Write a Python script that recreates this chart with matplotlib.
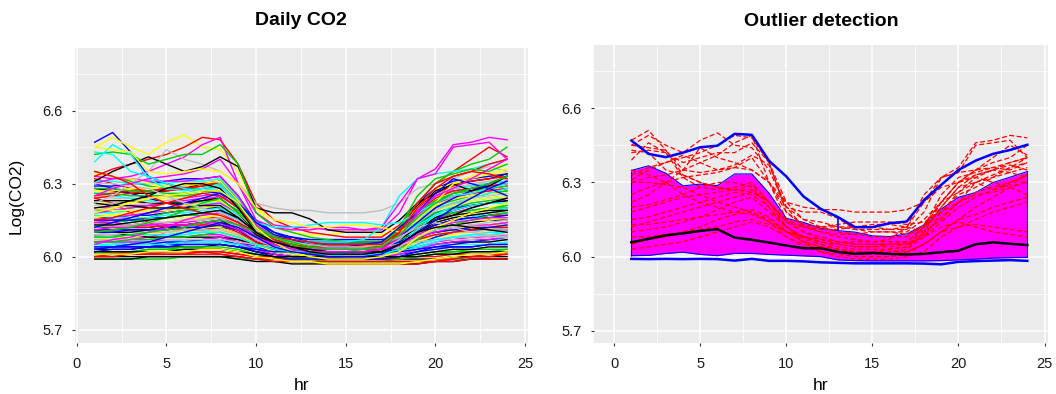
import numpy as np
import matplotlib
matplotlib.use("Agg")
import matplotlib.pyplot as plt
from matplotlib.ticker import MultipleLocator

plt.rcParams['font.family'] = ['Liberation Sans', 'DejaVu Sans']

hours = list(range(1, 25))

# days flagged as outliers (red dashed on the right panel)
outliers = [
    [6.47, 6.51, 6.43, 6.33, 6.30, 6.28, 6.27, 6.26, 6.22, 6.15, 6.10, 6.08, 6.06, 6.05, 6.05, 6.05, 6.05, 6.08, 6.14, 6.20, 6.24, 6.27, 6.30, 6.33],
    [6.45, 6.49, 6.45, 6.42, 6.47, 6.50, 6.45, 6.44, 6.35, 6.20, 6.12, 6.10, 6.09, 6.09, 6.10, 6.10, 6.09, 6.12, 6.20, 6.28, 6.30, 6.33, 6.36, 6.38],
    [6.33, 6.36, 6.38, 6.40, 6.42, 6.45, 6.49, 6.48, 6.38, 6.22, 6.15, 6.12, 6.10, 6.09, 6.08, 6.08, 6.08, 6.13, 6.22, 6.30, 6.35, 6.40, 6.45, 6.41],
    [6.30, 6.32, 6.33, 6.35, 6.38, 6.41, 6.46, 6.49, 6.30, 6.18, 6.13, 6.12, 6.12, 6.11, 6.11, 6.11, 6.11, 6.18, 6.32, 6.36, 6.46, 6.47, 6.49, 6.48],
    [6.22, 6.25, 6.30, 6.35, 6.44, 6.40, 6.38, 6.35, 6.30, 6.22, 6.20, 6.19, 6.19, 6.18, 6.18, 6.18, 6.19, 6.22, 6.28, 6.30, 6.32, 6.35, 6.37, 6.35],
    [6.31, 6.35, 6.38, 6.41, 6.38, 6.35, 6.37, 6.41, 6.37, 6.20, 6.18, 6.18, 6.155, 6.11, 6.10, 6.10, 6.10, 6.15, 6.22, 6.26, 6.30, 6.27, 6.29, 6.33],
    [6.42, 6.43, 6.42, 6.38, 6.40, 6.42, 6.42, 6.46, 6.38, 6.18, 6.12, 6.10, 6.08, 6.07, 6.06, 6.06, 6.06, 6.12, 6.22, 6.30, 6.35, 6.38, 6.40, 6.45],
    [6.39, 6.46, 6.42, 6.32, 6.28, 6.27, 6.28, 6.30, 6.22, 6.12, 6.08, 6.07, 6.06, 6.06, 6.06, 6.07, 6.12, 6.25, 6.32, 6.34, 6.35, 6.36, 6.38, 6.40],
    [6.25, 6.28, 6.30, 6.32, 6.33, 6.34, 6.36, 6.40, 6.30, 6.15, 6.12, 6.11, 6.11, 6.12, 6.12, 6.11, 6.12, 6.22, 6.32, 6.34, 6.45, 6.46, 6.47, 6.40],
    [6.15, 6.16, 6.18, 6.20, 6.22, 6.24, 6.26, 6.25, 6.20, 6.12, 6.07, 6.05, 6.03, 6.02, 6.02, 6.02, 6.03, 6.10, 6.22, 6.30, 6.33, 6.35, 6.38, 6.40],
    [6.10, 6.11, 6.12, 6.14, 6.16, 6.19, 6.22, 6.24, 6.18, 6.12, 6.08, 6.05, 6.03, 6.02, 6.02, 6.03, 6.04, 6.12, 6.25, 6.32, 6.34, 6.36, 6.35, 6.38],
    [6.43, 6.42, 6.35, 6.33, 6.30, 6.28, 6.27, 6.29, 6.22, 6.14, 6.12, 6.12, 6.13, 6.14, 6.14, 6.14, 6.13, 6.14, 6.18, 6.22, 6.25, 6.26, 6.28, 6.30],
    [6.45, 6.44, 6.43, 6.35, 6.34, 6.35, 6.36, 6.35, 6.30, 6.20, 6.15, 6.14, 6.12, 6.12, 6.13, 6.13, 6.12, 6.10, 6.15, 6.22, 6.30, 6.32, 6.34, 6.36],
    [6.12, 6.14, 6.16, 6.18, 6.20, 6.22, 6.24, 6.26, 6.22, 6.14, 6.10, 6.07, 6.05, 6.04, 6.04, 6.05, 6.06, 6.12, 6.18, 6.26, 6.32, 6.30, 6.28, 6.25],
    [6.20, 6.21, 6.23, 6.25, 6.28, 6.30, 6.30, 6.28, 6.20, 6.10, 6.06, 6.04, 6.03, 6.02, 6.02, 6.02, 6.02, 6.05, 6.10, 6.15, 6.17, 6.20, 6.22, 6.24],
    [6.05, 6.07, 6.08, 6.10, 6.12, 6.15, 6.17, 6.18, 6.14, 6.08, 6.05, 6.03, 6.02, 6.02, 6.02, 6.02, 6.03, 6.08, 6.18, 6.25, 6.28, 6.32, 6.36, 6.40],
    [6.30, 6.30, 6.29, 6.28, 6.25, 6.22, 6.20, 6.18, 6.15, 6.10, 6.08, 6.06, 6.05, 6.04, 6.04, 6.04, 6.05, 6.08, 6.12, 6.14, 6.12, 6.10, 6.09, 6.08],
    [6.35, 6.33, 6.30, 6.25, 6.22, 6.20, 6.18, 6.17, 6.14, 6.10, 6.08, 6.07, 6.06, 6.05, 6.05, 6.05, 6.05, 6.10, 6.20, 6.28, 6.33, 6.35, 6.34, 6.32],
    [6.08, 6.08, 6.09, 6.10, 6.11, 6.12, 6.14, 6.15, 6.13, 6.10, 6.08, 6.06, 6.04, 6.03, 6.03, 6.03, 6.04, 6.09, 6.16, 6.22, 6.26, 6.28, 6.30, 6.33],
    [6.18, 6.20, 6.22, 6.24, 6.25, 6.26, 6.27, 6.27, 6.22, 6.12, 6.06, 6.02, 6.00, 5.99, 5.99, 5.99, 6.00, 6.02, 6.08, 6.12, 6.15, 6.18, 6.20, 6.22],
    [6.03, 6.04, 6.05, 6.06, 6.08, 6.10, 6.12, 6.14, 6.12, 6.08, 6.04, 6.02, 6.01, 6.00, 6.00, 6.00, 6.01, 6.05, 6.10, 6.15, 6.20, 6.24, 6.28, 6.31],
    [6.13, 6.13, 6.14, 6.15, 6.16, 6.17, 6.18, 6.19, 6.16, 6.10, 6.06, 6.04, 6.02, 6.01, 6.01, 6.01, 6.02, 6.05, 6.10, 6.12, 6.13, 6.12, 6.11, 6.10],
]

# ordinary days
normal_days = [
    [6.00, 6.00, 6.00, 6.00, 6.00, 6.00, 6.00, 6.00, 6.00, 5.99, 5.99, 5.99, 5.99, 5.99, 5.99, 5.99, 5.99, 5.99, 5.99, 5.99, 6.00, 6.00, 6.00, 6.00],
    [6.01, 6.01, 6.01, 6.01, 6.01, 6.01, 6.02, 6.02, 6.01, 6.00, 5.99, 5.99, 5.99, 5.98, 5.98, 5.98, 5.98, 5.98, 5.98, 5.99, 5.99, 6.00, 6.00, 6.01],
    [6.02, 6.02, 6.02, 6.03, 6.03, 6.03, 6.03, 6.03, 6.02, 6.01, 6.00, 6.00, 5.99, 5.99, 5.99, 5.99, 5.99, 6.00, 6.01, 6.02, 6.02, 6.03, 6.03, 6.03],
    [6.04, 6.04, 6.04, 6.04, 6.05, 6.05, 6.05, 6.05, 6.04, 6.02, 6.01, 6.00, 6.00, 6.00, 6.00, 6.00, 6.00, 6.01, 6.02, 6.03, 6.04, 6.04, 6.05, 6.05],
    [6.05, 6.05, 6.06, 6.06, 6.06, 6.07, 6.07, 6.07, 6.05, 6.03, 6.02, 6.01, 6.00, 6.00, 6.00, 6.00, 6.00, 6.01, 6.03, 6.05, 6.06, 6.06, 6.07, 6.07],
    [6.06, 6.07, 6.07, 6.08, 6.08, 6.08, 6.09, 6.09, 6.07, 6.04, 6.02, 6.01, 6.01, 6.00, 6.00, 6.00, 6.01, 6.02, 6.04, 6.06, 6.07, 6.08, 6.08, 6.09],
    [6.08, 6.08, 6.09, 6.09, 6.10, 6.10, 6.10, 6.11, 6.08, 6.05, 6.03, 6.02, 6.01, 6.01, 6.01, 6.01, 6.01, 6.03, 6.06, 6.08, 6.09, 6.10, 6.10, 6.11],
    [6.09, 6.10, 6.10, 6.11, 6.11, 6.12, 6.12, 6.13, 6.10, 6.06, 6.03, 6.02, 6.02, 6.01, 6.01, 6.01, 6.02, 6.04, 6.08, 6.10, 6.11, 6.12, 6.13, 6.13],
    [6.11, 6.11, 6.12, 6.12, 6.13, 6.13, 6.14, 6.14, 6.11, 6.07, 6.04, 6.03, 6.02, 6.02, 6.02, 6.02, 6.02, 6.05, 6.09, 6.12, 6.13, 6.14, 6.15, 6.15],
    [6.12, 6.13, 6.13, 6.14, 6.14, 6.15, 6.16, 6.16, 6.12, 6.07, 6.04, 6.03, 6.02, 6.02, 6.02, 6.02, 6.02, 6.05, 6.10, 6.13, 6.15, 6.16, 6.17, 6.17],
    [6.14, 6.14, 6.15, 6.15, 6.16, 6.17, 6.17, 6.18, 6.14, 6.08, 6.05, 6.03, 6.02, 6.02, 6.02, 6.02, 6.03, 6.07, 6.12, 6.16, 6.18, 6.19, 6.20, 6.20],
    [6.16, 6.16, 6.17, 6.17, 6.18, 6.19, 6.20, 6.20, 6.15, 6.09, 6.05, 6.04, 6.03, 6.03, 6.03, 6.03, 6.03, 6.07, 6.13, 6.18, 6.20, 6.21, 6.22, 6.23],
    [6.18, 6.18, 6.19, 6.19, 6.20, 6.21, 6.22, 6.22, 6.17, 6.10, 6.06, 6.04, 6.03, 6.03, 6.03, 6.03, 6.04, 6.08, 6.15, 6.20, 6.22, 6.23, 6.24, 6.25],
    [6.20, 6.20, 6.21, 6.21, 6.22, 6.23, 6.24, 6.24, 6.18, 6.10, 6.06, 6.05, 6.04, 6.04, 6.04, 6.04, 6.04, 6.09, 6.16, 6.22, 6.24, 6.26, 6.27, 6.28],
    [6.22, 6.22, 6.22, 6.23, 6.24, 6.25, 6.26, 6.27, 6.20, 6.11, 6.07, 6.05, 6.04, 6.04, 6.04, 6.04, 6.05, 6.10, 6.18, 6.24, 6.27, 6.28, 6.29, 6.30],
    [6.25, 6.24, 6.24, 6.24, 6.25, 6.26, 6.28, 6.29, 6.22, 6.12, 6.07, 6.06, 6.05, 6.05, 6.05, 6.05, 6.05, 6.11, 6.20, 6.26, 6.28, 6.30, 6.31, 6.32],
    [6.28, 6.27, 6.26, 6.26, 6.27, 6.28, 6.30, 6.31, 6.24, 6.13, 6.08, 6.06, 6.05, 6.05, 6.05, 6.05, 6.06, 6.12, 6.21, 6.27, 6.30, 6.31, 6.32, 6.34],
    [6.32, 6.30, 6.28, 6.27, 6.27, 6.28, 6.29, 6.30, 6.23, 6.12, 6.08, 6.06, 6.05, 6.05, 6.05, 6.05, 6.05, 6.10, 6.18, 6.22, 6.25, 6.26, 6.27, 6.28],
    [6.35, 6.33, 6.31, 6.29, 6.28, 6.28, 6.28, 6.29, 6.22, 6.11, 6.07, 6.05, 6.04, 6.04, 6.04, 6.04, 6.04, 6.08, 6.14, 6.18, 6.20, 6.22, 6.23, 6.24],
    [6.30, 6.28, 6.26, 6.24, 6.22, 6.21, 6.20, 6.20, 6.15, 6.08, 6.05, 6.03, 6.02, 6.02, 6.02, 6.02, 6.02, 6.05, 6.10, 6.13, 6.15, 6.16, 6.17, 6.18],
    [6.26, 6.25, 6.24, 6.23, 6.22, 6.22, 6.22, 6.23, 6.17, 6.09, 6.05, 6.04, 6.03, 6.03, 6.03, 6.03, 6.03, 6.06, 6.12, 6.16, 6.18, 6.19, 6.20, 6.21],
    [6.14, 6.15, 6.16, 6.18, 6.19, 6.21, 6.23, 6.25, 6.20, 6.12, 6.08, 6.06, 6.05, 6.05, 6.05, 6.05, 6.06, 6.11, 6.20, 6.25, 6.28, 6.29, 6.30, 6.31],
    [6.10, 6.11, 6.12, 6.13, 6.14, 6.15, 6.16, 6.17, 6.13, 6.08, 6.05, 6.04, 6.03, 6.03, 6.03, 6.03, 6.04, 6.07, 6.12, 6.15, 6.17, 6.18, 6.19, 6.19],
    [6.07, 6.07, 6.08, 6.08, 6.09, 6.09, 6.10, 6.10, 6.08, 6.05, 6.03, 6.02, 6.02, 6.02, 6.02, 6.02, 6.02, 6.04, 6.07, 6.09, 6.10, 6.11, 6.11, 6.12],
    [6.03, 6.03, 6.03, 6.04, 6.04, 6.04, 6.04, 6.05, 6.04, 6.02, 6.01, 6.00, 6.00, 6.00, 5.99, 5.99, 6.00, 6.00, 6.01, 6.02, 6.03, 6.03, 6.04, 6.04],
    [6.01, 6.01, 6.02, 6.02, 6.02, 6.02, 6.02, 6.02, 6.01, 6.00, 6.00, 5.99, 5.99, 5.99, 5.99, 5.99, 5.99, 5.99, 6.00, 6.00, 6.01, 6.01, 6.01, 6.02],
    [5.99, 5.99, 5.99, 5.99, 5.99, 6.00, 6.00, 6.00, 5.99, 5.99, 5.98, 5.98, 5.98, 5.98, 5.98, 5.98, 5.98, 5.98, 5.98, 5.98, 5.99, 5.99, 5.99, 5.99],
    [6.02, 6.03, 6.03, 6.04, 6.05, 6.06, 6.07, 6.08, 6.06, 6.04, 6.02, 6.01, 6.00, 6.00, 6.00, 6.00, 6.00, 6.02, 6.05, 6.08, 6.10, 6.12, 6.13, 6.14],
    [6.04, 6.05, 6.06, 6.07, 6.08, 6.09, 6.10, 6.12, 6.09, 6.05, 6.03, 6.02, 6.01, 6.01, 6.01, 6.01, 6.01, 6.03, 6.07, 6.11, 6.14, 6.16, 6.18, 6.20],
    [6.06, 6.06, 6.07, 6.08, 6.10, 6.11, 6.13, 6.15, 6.11, 6.06, 6.04, 6.03, 6.02, 6.02, 6.02, 6.02, 6.02, 6.05, 6.10, 6.15, 6.18, 6.20, 6.22, 6.24],
    [6.17, 6.17, 6.17, 6.16, 6.16, 6.16, 6.16, 6.17, 6.13, 6.08, 6.05, 6.04, 6.04, 6.04, 6.04, 6.04, 6.04, 6.06, 6.09, 6.11, 6.12, 6.12, 6.13, 6.13],
    [6.13, 6.12, 6.12, 6.11, 6.11, 6.11, 6.11, 6.12, 6.09, 6.06, 6.04, 6.03, 6.03, 6.03, 6.03, 6.03, 6.03, 6.04, 6.06, 6.07, 6.08, 6.08, 6.09, 6.09],
    [6.09, 6.09, 6.09, 6.08, 6.08, 6.08, 6.08, 6.08, 6.07, 6.05, 6.03, 6.02, 6.02, 6.02, 6.02, 6.02, 6.02, 6.03, 6.04, 6.05, 6.06, 6.06, 6.06, 6.07],
    [6.24, 6.22, 6.18, 6.14, 6.12, 6.11, 6.11, 6.12, 6.09, 6.05, 6.03, 6.02, 6.02, 6.02, 6.02, 6.02, 6.02, 6.04, 6.07, 6.09, 6.10, 6.11, 6.12, 6.12],
    [6.19, 6.19, 6.20, 6.21, 6.22, 6.22, 6.23, 6.23, 6.19, 6.12, 6.09, 6.08, 6.07, 6.07, 6.07, 6.07, 6.07, 6.09, 6.13, 6.16, 6.18, 6.19, 6.20, 6.21],
    [6.11, 6.11, 6.11, 6.11, 6.11, 6.12, 6.12, 6.12, 6.11, 6.09, 6.08, 6.08, 6.07, 6.07, 6.07, 6.07, 6.07, 6.08, 6.09, 6.10, 6.11, 6.11, 6.11, 6.11],
    [6.05, 6.05, 6.05, 6.05, 6.06, 6.06, 6.06, 6.06, 6.05, 6.04, 6.04, 6.03, 6.03, 6.03, 6.03, 6.03, 6.03, 6.04, 6.04, 6.05, 6.05, 6.05, 6.05, 6.06],
    [6.15, 6.16, 6.17, 6.18, 6.19, 6.20, 6.21, 6.22, 6.18, 6.10, 6.05, 6.03, 6.02, 6.01, 6.01, 6.01, 6.02, 6.06, 6.14, 6.20, 6.24, 6.27, 6.28, 6.29],
    [6.27, 6.27, 6.28, 6.28, 6.29, 6.30, 6.31, 6.32, 6.25, 6.14, 6.09, 6.07, 6.06, 6.06, 6.06, 6.06, 6.06, 6.12, 6.22, 6.28, 6.30, 6.32, 6.33, 6.35],
    [6.08, 6.09, 6.10, 6.11, 6.12, 6.13, 6.14, 6.15, 6.12, 6.08, 6.06, 6.05, 6.04, 6.04, 6.04, 6.04, 6.04, 6.06, 6.10, 6.14, 6.16, 6.17, 6.18, 6.18],
    [5.99, 5.99, 5.99, 6.00, 6.00, 6.00, 6.00, 6.00, 5.99, 5.98, 5.98, 5.97, 5.97, 5.97, 5.97, 5.97, 5.97, 5.97, 5.97, 5.98, 5.98, 5.99, 5.99, 5.99],
    [6.00, 6.01, 6.01, 6.01, 6.02, 6.02, 6.02, 6.01, 6.00, 5.99, 5.98, 5.98, 5.98, 5.97, 5.97, 5.97, 5.97, 5.97, 5.97, 5.98, 5.99, 6.00, 6.01, 6.01],
    [6.01, 6.02, 6.02, 6.03, 6.03, 6.04, 6.04, 6.04, 6.03, 6.01, 6.00, 5.99, 5.99, 5.98, 5.98, 5.98, 5.98, 5.99, 6.00, 6.01, 6.02, 6.02, 6.02, 6.03],
    [6.03, 6.04, 6.05, 6.05, 6.06, 6.06, 6.07, 6.07, 6.05, 6.02, 6.00, 5.99, 5.99, 5.99, 5.99, 5.99, 5.99, 6.00, 6.02, 6.04, 6.05, 6.06, 6.07, 6.08],
    [6.04, 6.04, 6.05, 6.05, 6.05, 6.06, 6.06, 6.06, 6.05, 6.03, 6.02, 6.01, 6.01, 6.01, 6.00, 6.00, 6.01, 6.02, 6.04, 6.06, 6.08, 6.09, 6.10, 6.10],
    [6.06, 6.06, 6.06, 6.06, 6.07, 6.07, 6.07, 6.08, 6.06, 6.03, 6.01, 6.00, 6.00, 6.00, 6.00, 6.00, 6.00, 6.01, 6.03, 6.05, 6.06, 6.07, 6.07, 6.08],
    [6.07, 6.08, 6.08, 6.09, 6.10, 6.11, 6.12, 6.12, 6.09, 6.05, 6.02, 6.01, 6.00, 6.00, 6.00, 6.00, 6.00, 6.02, 6.06, 6.09, 6.11, 6.12, 6.13, 6.14],
    [6.09, 6.09, 6.10, 6.10, 6.10, 6.11, 6.11, 6.11, 6.09, 6.06, 6.04, 6.03, 6.03, 6.03, 6.03, 6.03, 6.03, 6.05, 6.07, 6.09, 6.10, 6.10, 6.11, 6.11],
    [6.10, 6.10, 6.10, 6.11, 6.12, 6.13, 6.14, 6.15, 6.11, 6.06, 6.03, 6.02, 6.01, 6.01, 6.01, 6.01, 6.02, 6.05, 6.11, 6.16, 6.19, 6.21, 6.22, 6.23],
    [6.12, 6.12, 6.12, 6.12, 6.13, 6.13, 6.13, 6.13, 6.10, 6.06, 6.04, 6.03, 6.03, 6.02, 6.02, 6.02, 6.03, 6.04, 6.07, 6.09, 6.10, 6.11, 6.12, 6.12],
    [6.13, 6.14, 6.15, 6.16, 6.18, 6.19, 6.20, 6.21, 6.16, 6.09, 6.05, 6.03, 6.02, 6.02, 6.02, 6.02, 6.02, 6.06, 6.13, 6.19, 6.22, 6.24, 6.26, 6.27],
    [6.15, 6.15, 6.15, 6.16, 6.16, 6.17, 6.18, 6.19, 6.15, 6.09, 6.06, 6.04, 6.04, 6.03, 6.03, 6.03, 6.04, 6.06, 6.10, 6.13, 6.15, 6.16, 6.16, 6.17],
    [6.17, 6.16, 6.16, 6.16, 6.17, 6.18, 6.19, 6.20, 6.16, 6.10, 6.06, 6.05, 6.04, 6.04, 6.04, 6.04, 6.04, 6.07, 6.13, 6.17, 6.19, 6.21, 6.22, 6.22],
    [6.18, 6.19, 6.20, 6.21, 6.22, 6.24, 6.25, 6.26, 6.20, 6.11, 6.06, 6.04, 6.03, 6.03, 6.03, 6.03, 6.04, 6.09, 6.17, 6.23, 6.26, 6.28, 6.30, 6.31],
    [6.20, 6.19, 6.19, 6.19, 6.19, 6.20, 6.20, 6.21, 6.16, 6.09, 6.05, 6.04, 6.03, 6.03, 6.03, 6.03, 6.03, 6.05, 6.09, 6.12, 6.14, 6.15, 6.15, 6.16],
    [6.21, 6.22, 6.23, 6.24, 6.25, 6.26, 6.27, 6.28, 6.21, 6.12, 6.07, 6.06, 6.05, 6.05, 6.05, 6.05, 6.05, 6.10, 6.19, 6.25, 6.28, 6.29, 6.31, 6.32],
    [6.23, 6.23, 6.23, 6.22, 6.22, 6.22, 6.23, 6.24, 6.18, 6.10, 6.06, 6.05, 6.04, 6.04, 6.04, 6.04, 6.04, 6.07, 6.12, 6.15, 6.17, 6.18, 6.19, 6.19],
    [6.24, 6.25, 6.26, 6.27, 6.28, 6.29, 6.30, 6.30, 6.23, 6.13, 6.08, 6.06, 6.05, 6.05, 6.05, 6.05, 6.06, 6.11, 6.20, 6.26, 6.29, 6.31, 6.32, 6.33],
    [6.26, 6.26, 6.25, 6.25, 6.25, 6.25, 6.26, 6.27, 6.20, 6.11, 6.07, 6.05, 6.04, 6.04, 6.04, 6.04, 6.05, 6.09, 6.16, 6.21, 6.23, 6.25, 6.26, 6.27],
    [6.29, 6.29, 6.30, 6.30, 6.31, 6.32, 6.32, 6.33, 6.25, 6.14, 6.09, 6.07, 6.06, 6.06, 6.06, 6.06, 6.06, 6.12, 6.22, 6.28, 6.31, 6.32, 6.33, 6.34],
    [6.31, 6.31, 6.30, 6.30, 6.30, 6.31, 6.31, 6.32, 6.24, 6.13, 6.08, 6.06, 6.05, 6.05, 6.05, 6.05, 6.05, 6.10, 6.19, 6.25, 6.28, 6.29, 6.30, 6.31],
    [6.33, 6.32, 6.32, 6.31, 6.31, 6.31, 6.32, 6.33, 6.25, 6.13, 6.08, 6.06, 6.05, 6.05, 6.05, 6.05, 6.05, 6.10, 6.19, 6.25, 6.27, 6.28, 6.29, 6.30],
    [6.34, 6.33, 6.32, 6.30, 6.29, 6.29, 6.30, 6.31, 6.23, 6.12, 6.07, 6.06, 6.05, 6.05, 6.05, 6.05, 6.05, 6.09, 6.16, 6.21, 6.24, 6.25, 6.26, 6.26],
    [6.07, 6.07, 6.07, 6.07, 6.07, 6.07, 6.07, 6.07, 6.06, 6.05, 6.04, 6.04, 6.04, 6.04, 6.04, 6.04, 6.04, 6.05, 6.06, 6.07, 6.07, 6.07, 6.08, 6.08],
    [6.02, 6.02, 6.02, 6.02, 6.02, 6.03, 6.03, 6.03, 6.02, 6.01, 6.00, 6.00, 6.00, 6.00, 6.00, 6.00, 6.00, 6.00, 6.00, 6.01, 6.01, 6.02, 6.02, 6.02],
    [6.00, 6.00, 6.01, 6.01, 6.01, 6.01, 6.01, 6.01, 6.00, 5.99, 5.99, 5.98, 5.98, 5.98, 5.98, 5.98, 5.98, 5.98, 5.98, 5.98, 5.98, 5.99, 5.99, 5.99],
    [6.06, 6.06, 6.07, 6.07, 6.08, 6.08, 6.09, 6.10, 6.08, 6.05, 6.03, 6.02, 6.01, 6.01, 6.01, 6.01, 6.01, 6.03, 6.07, 6.11, 6.13, 6.15, 6.17, 6.18],
    [6.10, 6.10, 6.11, 6.11, 6.12, 6.12, 6.12, 6.13, 6.11, 6.08, 6.06, 6.05, 6.05, 6.05, 6.05, 6.05, 6.05, 6.06, 6.08, 6.10, 6.11, 6.12, 6.12, 6.13],
    [6.12, 6.13, 6.14, 6.15, 6.16, 6.17, 6.18, 6.19, 6.15, 6.08, 6.04, 6.03, 6.02, 6.01, 6.01, 6.01, 6.02, 6.05, 6.11, 6.17, 6.21, 6.24, 6.26, 6.28],
    [6.14, 6.14, 6.13, 6.13, 6.13, 6.13, 6.14, 6.14, 6.11, 6.07, 6.05, 6.04, 6.03, 6.03, 6.03, 6.03, 6.03, 6.05, 6.08, 6.10, 6.12, 6.13, 6.13, 6.14],
    [6.16, 6.17, 6.18, 6.19, 6.20, 6.21, 6.22, 6.23, 6.18, 6.11, 6.07, 6.05, 6.05, 6.04, 6.04, 6.04, 6.05, 6.08, 6.14, 6.19, 6.21, 6.23, 6.24, 6.25],
    [6.19, 6.20, 6.21, 6.22, 6.23, 6.24, 6.26, 6.27, 6.20, 6.11, 6.06, 6.04, 6.03, 6.03, 6.03, 6.03, 6.03, 6.07, 6.14, 6.19, 6.22, 6.24, 6.25, 6.26],
    [6.22, 6.21, 6.21, 6.20, 6.20, 6.20, 6.21, 6.21, 6.16, 6.09, 6.05, 6.03, 6.02, 6.02, 6.02, 6.02, 6.02, 6.05, 6.10, 6.14, 6.16, 6.17, 6.18, 6.19],
    [6.25, 6.26, 6.27, 6.27, 6.28, 6.28, 6.29, 6.30, 6.22, 6.12, 6.07, 6.05, 6.04, 6.04, 6.04, 6.04, 6.04, 6.09, 6.18, 6.24, 6.27, 6.28, 6.29, 6.30],
    [6.28, 6.28, 6.27, 6.27, 6.26, 6.26, 6.27, 6.27, 6.21, 6.12, 6.08, 6.06, 6.05, 6.05, 6.05, 6.05, 6.06, 6.10, 6.18, 6.23, 6.26, 6.27, 6.28, 6.29],
    [6.04, 6.04, 6.04, 6.04, 6.04, 6.05, 6.05, 6.05, 6.04, 6.03, 6.02, 6.02, 6.02, 6.01, 6.01, 6.01, 6.02, 6.02, 6.03, 6.04, 6.04, 6.04, 6.05, 6.05],
    [6.08, 6.08, 6.09, 6.09, 6.09, 6.10, 6.10, 6.10, 6.08, 6.05, 6.03, 6.02, 6.02, 6.01, 6.01, 6.01, 6.01, 6.03, 6.05, 6.07, 6.08, 6.09, 6.09, 6.10],
    [6.11, 6.12, 6.12, 6.13, 6.14, 6.14, 6.15, 6.16, 6.13, 6.08, 6.05, 6.04, 6.03, 6.03, 6.03, 6.03, 6.03, 6.05, 6.09, 6.12, 6.14, 6.15, 6.16, 6.16],
    [6.01, 6.01, 6.01, 6.02, 6.02, 6.02, 6.03, 6.03, 6.02, 6.00, 5.99, 5.98, 5.98, 5.97, 5.97, 5.97, 5.97, 5.97, 5.98, 5.99, 6.00, 6.01, 6.01, 6.02],
    [6.13, 6.13, 6.13, 6.14, 6.14, 6.15, 6.15, 6.16, 6.12, 6.07, 6.04, 6.03, 6.02, 6.02, 6.02, 6.02, 6.02, 6.04, 6.08, 6.11, 6.12, 6.13, 6.14, 6.15],
]

# functional boxplot summary curves (right panel)
median_curve = [6.058, 6.072, 6.086, 6.094, 6.104, 6.111, 6.077, 6.068, 6.057, 6.045, 6.034, 6.034,
                6.019, 6.011, 6.015, 6.011, 6.009, 6.011, 6.018, 6.024, 6.050, 6.058, 6.052, 6.047]
bag_upper = [6.348, 6.367, 6.337, 6.286, 6.293, 6.287, 6.334, 6.334, 6.256, 6.155, 6.138, 6.115,
             6.105, 6.099, 6.084, 6.081, 6.092, 6.128, 6.192, 6.240, 6.259, 6.299, 6.321, 6.344]
bag_lower = [6.004, 6.005, 6.013, 6.018, 6.009, 6.004, 6.013, 6.013, 6.009, 6.006, 6.003, 6.000,
             5.987, 5.984, 5.983, 5.983, 5.983, 5.983, 5.984, 5.987, 5.990, 5.994, 5.996, 5.997]
fence_upper = [6.469, 6.415, 6.402, 6.420, 6.442, 6.448, 6.496, 6.492, 6.387, 6.324, 6.243, 6.193,
               6.160, 6.119, 6.119, 6.135, 6.142, 6.229, 6.290, 6.350, 6.388, 6.415, 6.431, 6.452]
fence_lower = [5.991, 5.990, 5.991, 5.990, 5.991, 5.990, 5.984, 5.991, 5.983, 5.983, 5.981, 5.977,
               5.975, 5.973, 5.973, 5.973, 5.973, 5.972, 5.969, 5.979, 5.982, 5.984, 5.986, 5.983]

r_palette = ["black", "red", "#00CD00", "blue", "cyan", "magenta", "yellow", "#BEBEBE"]
# palette index of each outlier day on the left panel
outlier_col = [3, 6, 1, 5, 7, 0, 2, 4, 5, 1, 2, 4, 6, 3, 0, 5, 7, 1, 2, 6, 3, 0]


def style_axes(ax):
    ax.set_facecolor("#EBEBEB")
    for s in ax.spines.values():
        s.set_visible(False)
    ax.xaxis.set_major_locator(MultipleLocator(5))
    ax.xaxis.set_minor_locator(MultipleLocator(2.5))
    ax.set_yticks([5.7, 6.0, 6.3, 6.6])
    ax.yaxis.set_minor_locator(MultipleLocator(0.15))
    ax.grid(which="major", color="white", linewidth=1.1)
    ax.grid(which="minor", color="white", linewidth=0.55)
    ax.set_axisbelow(True)
    ax.tick_params(which="major", length=2, width=0.8, color="#333333", labelsize=10.5, labelcolor="#1a1a1a")
    ax.tick_params(axis="x", which="major", pad=8)
    ax.tick_params(axis="y", which="major", pad=7)
    ax.tick_params(which="minor", length=0)
    ax.set_xlabel("hr", fontsize=12.5, labelpad=5)


fig = plt.figure(figsize=(10.56, 3.94), dpi=100)
ax1 = fig.add_axes([0.0710, 0.1294, 0.4287, 0.7480])
ax2 = fig.add_axes([0.5625, 0.1287, 0.4299, 0.7571])

# left: all days
for i, day in enumerate(normal_days):
    ax1.plot(hours, day, color=r_palette[i % len(r_palette)], linewidth=1.0)
for day, c in zip(outliers, outlier_col):
    ax1.plot(hours, day, color=r_palette[c], linewidth=1.0)
style_axes(ax1)
ax1.set_xlim(-0.1, 25.15)
ax1.set_ylim(5.645, 6.856)
ax1.set_ylabel("Log(CO2)", fontsize=12.5)
ax1.yaxis.set_label_coords(-0.113, 0.5)
ax1.set_title("Daily CO2", fontsize=14, fontweight="bold", pad=17)

# right: functional boxplot
ax2.fill_between(hours, bag_lower, bag_upper, color="magenta", linewidth=0)
ax2.plot(hours, bag_upper, color="blue", linewidth=0.8)
ax2.plot(hours, bag_lower, color="blue", linewidth=0.8)
ax2.vlines([hours[0], hours[-1]], [bag_lower[0], bag_lower[-1]], [bag_upper[0], bag_upper[-1]],
           color="blue", linewidth=0.8)
for day in outliers:
    ax2.plot(hours, day, color="red", linewidth=0.9, linestyle=(0, (4, 2)))
ax2.plot(hours, fence_upper, color="blue", linewidth=1.8)
ax2.plot(hours, fence_lower, color="blue", linewidth=1.8)
ax2.vlines(hours[12], bag_upper[12], fence_upper[12], color="blue", linewidth=1.2)
ax2.plot(hours, median_curve, color="black", linewidth=1.8)
style_axes(ax2)
ax2.set_xlim(-1.17, 25.2)
ax2.set_ylim(5.65, 6.855)
ax2.set_title("Outlier detection", fontsize=14, fontweight="bold", pad=14)

fig.savefig("out.png", dpi=100)
